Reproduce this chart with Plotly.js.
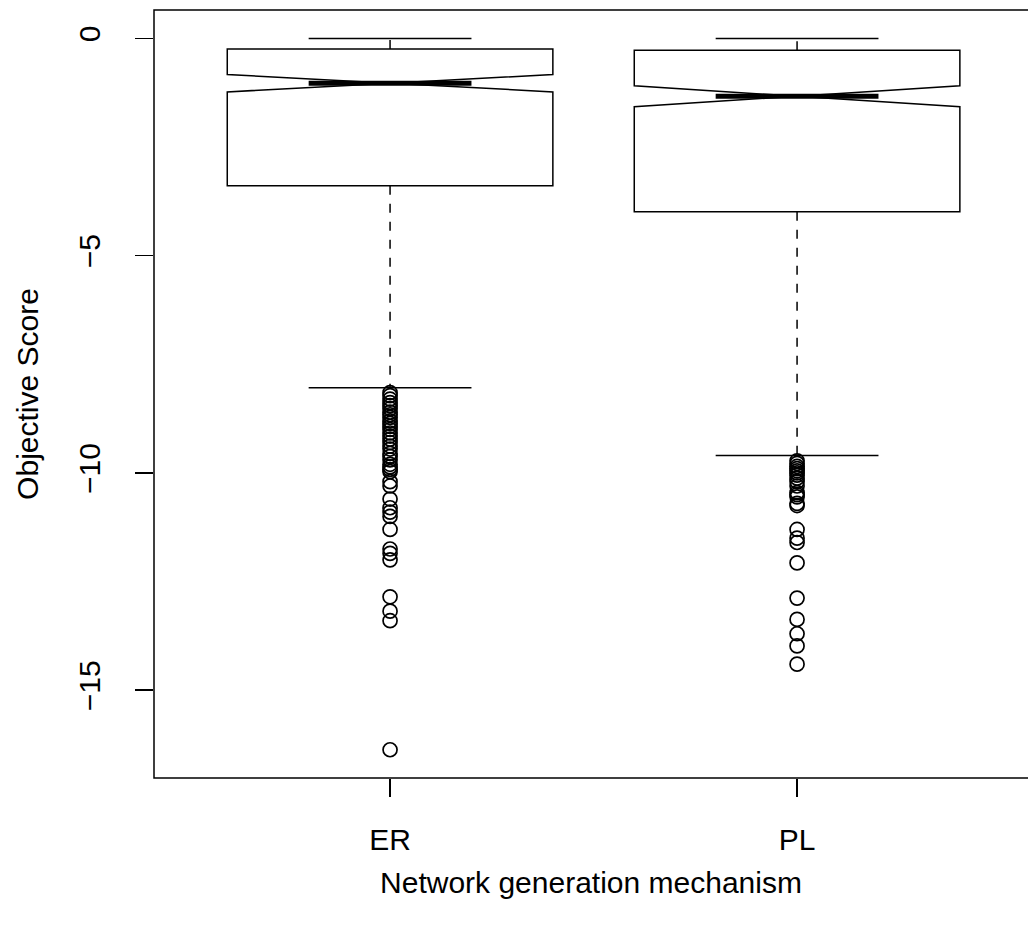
<!DOCTYPE html>
<html>
<head>
<meta charset="utf-8">
<script src="https://cdn.plot.ly/plotly-3.0.1.min.js"></script>
<style>html,body{margin:0;padding:0;background:#fff;}#chart{width:1028px;height:929px;}</style>
</head>
<body>
<div id="chart"></div>
<script>
// ---- data ----
const categories = ['ER', 'PL'];
const positions = [1, 2];
const q1Values = [-3.39, -3.99];
const medianValues = [-1.03, -1.33];
const q3Values = [-0.24, -0.27];
const lowerWhisker = [-8.04, -9.60];
const upperWhisker = [0, 0];
const notchHalfSpan = [0.20, 0.24];

const outliersER = [-8.15, -8.22, -8.3, -8.38, -8.45, -8.52, -8.6, -8.66, -8.72, -8.8,
  -8.86, -8.93, -9.0, -9.08, -9.15, -9.22, -9.3, -9.38, -9.45, -9.55, -9.62, -9.7,
  -9.8, -9.86, -9.92, -9.97, -10.2, -10.3, -10.6, -10.8, -10.9, -11.0, -11.3,
  -11.75, -11.85, -12.0, -12.85, -13.18, -13.4, -16.37];
const outliersPL = [-9.72, -9.78, -9.85, -9.9, -9.95, -10.0, -10.05, -10.12, -10.2,
  -10.3, -10.45, -10.5, -10.55, -10.7, -10.75, -11.3, -11.5, -11.6, -12.07, -12.88,
  -13.37, -13.7, -13.98, -14.4];
const outlierGroups = [outliersER, outliersPL];

const yTicks = [0, -5, -10, -15];
const xTitle = 'Network generation mechanism';
const yTitle = 'Objective Score';

// ---- styling ----
const FONT = 'Liberation Sans, Arial, Helvetica, sans-serif';
const FS = 30;
const LW = 1.5;
const stapleHalf = 0.2;

const traces = [];

// notched box (whiskers drawn separately so they can be dashed)
traces.push({
  type: 'box',
  x: positions,
  q1: q1Values,
  median: medianValues,
  q3: q3Values,
  lowerfence: q1Values,
  upperfence: q3Values,
  notchspan: notchHalfSpan,
  notched: true,
  notchwidth: 0.5,
  width: 0.8,
  whiskerwidth: 0,
  boxpoints: false,
  fillcolor: 'rgba(0,0,0,0)',
  line: {color: '#000', width: LW},
  hoverinfo: 'skip',
  showlegend: false
});

// dashed whiskers
const wx = [], wy = [];
positions.forEach((p, i) => {
  wx.push(p, p, null, p, p, null);
  wy.push(q1Values[i], lowerWhisker[i], null, q3Values[i], upperWhisker[i], null);
});
traces.push({type: 'scatter', mode: 'lines', x: wx, y: wy,
  line: {color: '#000', width: LW, dash: '9px,9px'}, hoverinfo: 'skip', showlegend: false});

// staples
const sx = [], sy = [];
positions.forEach((p, i) => {
  sx.push(p - stapleHalf, p + stapleHalf, null, p - stapleHalf, p + stapleHalf, null);
  sy.push(lowerWhisker[i], lowerWhisker[i], null, upperWhisker[i], upperWhisker[i], null);
});
traces.push({type: 'scatter', mode: 'lines', x: sx, y: sy,
  line: {color: '#000', width: LW}, hoverinfo: 'skip', showlegend: false});

// thick medians
const mx = [], my = [];
positions.forEach((p, i) => {
  mx.push(p - stapleHalf, p + stapleHalf, null);
  my.push(medianValues[i], medianValues[i], null);
});
traces.push({type: 'scatter', mode: 'lines', x: mx, y: my,
  line: {color: '#000', width: 5}, hoverinfo: 'skip', showlegend: false});

// outliers
const ox = [], oy = [];
outlierGroups.forEach((g, i) => g.forEach(v => { ox.push(positions[i]); oy.push(v); }));
traces.push({type: 'scatter', mode: 'markers', x: ox, y: oy,
  marker: {symbol: 'circle-open', size: 14, color: '#000', line: {width: 1.7, color: '#000'}},
  hoverinfo: 'skip', showlegend: false});

const layout = {
  width: 1028, height: 929,
  margin: {l: 154, r: 0, t: 10, b: 151, pad: 0},
  paper_bgcolor: '#fff', plot_bgcolor: '#fff',
  font: {family: FONT, size: FS, color: '#000'},
  showlegend: false,
  xaxis: {
    range: [0.42, 2.5674],
    tickmode: 'array', tickvals: positions, ticktext: categories,
    ticks: 'outside', ticklen: 18, tickwidth: LW, tickcolor: '#000',
    showgrid: false, zeroline: false, showline: false,
    ticklabelstandoff: 17,
    tickfont: {family: FONT, size: FS},
    title: {text: xTitle, font: {family: FONT, size: FS}, standoff: 16}
  },
  yaxis: {
    range: [-17.02, 0.655],
    tickmode: 'array', tickvals: yTicks, ticktext: yTicks.map(v => v < 0 ? '\u2212' + Math.abs(v) : String(v)),
    tickangle: -90,
    ticks: 'outside', ticklen: 18, tickwidth: LW, tickcolor: '#000',
    showgrid: false, zeroline: false, showline: false,
    ticklabelstandoff: 23,
    tickfont: {family: FONT, size: FS},
    title: {text: yTitle, font: {family: FONT, size: FS}, standoff: 25}
  },
  shapes: [{type: 'rect', xref: 'paper', yref: 'paper', x0: 0, x1: 1.02, y0: 0, y1: 1,
    line: {color: '#000', width: LW}, fillcolor: 'rgba(0,0,0,0)', layer: 'above'}]
};

Plotly.newPlot('chart', traces, layout, {displayModeBar: false, staticPlot: true});
</script>
</body>
</html>
